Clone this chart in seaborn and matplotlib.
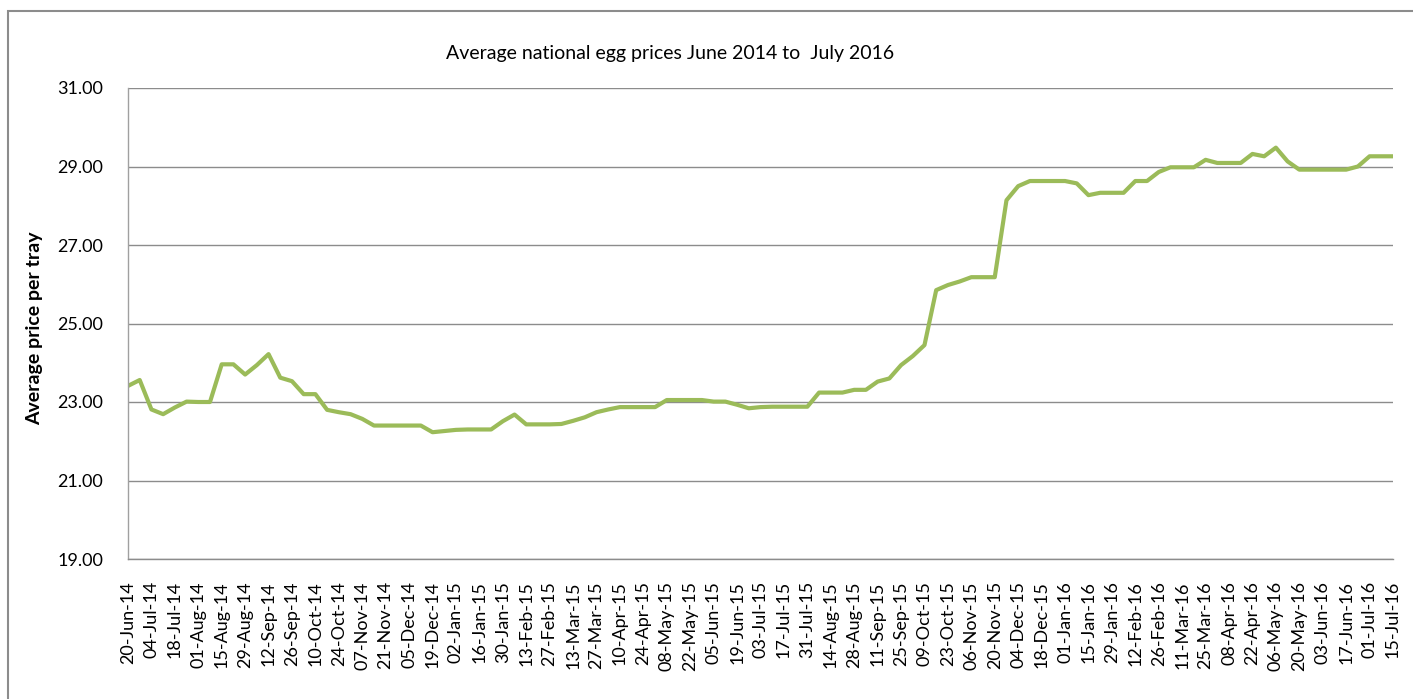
import matplotlib
matplotlib.use("Agg")
import matplotlib.pyplot as plt
import seaborn as sns
import pandas as pd
from matplotlib.patches import Rectangle

tick_labels = [
    "20-Jun-14", "04-Jul-14", "18-Jul-14", "01-Aug-14", "15-Aug-14", "29-Aug-14",
    "12-Sep-14", "26-Sep-14", "10-Oct-14", "24-Oct-14", "07-Nov-14", "21-Nov-14",
    "05-Dec-14", "19-Dec-14", "02-Jan-15", "16-Jan-15", "30-Jan-15", "13-Feb-15",
    "27-Feb-15", "13-Mar-15", "27-Mar-15", "10-Apr-15", "24-Apr-15", "08-May-15",
    "22-May-15", "05-Jun-15", "19-Jun-15", "03-Jul-15", "17-Jul-15", "31-Jul-15",
    "14-Aug-15", "28-Aug-15", "11-Sep-15", "25-Sep-15", "09-Oct-15", "23-Oct-15",
    "06-Nov-15", "20-Nov-15", "04-Dec-15", "18-Dec-15", "01-Jan-16", "15-Jan-16",
    "29-Jan-16", "12-Feb-16", "26-Feb-16", "11-Mar-16", "25-Mar-16", "08-Apr-16",
    "22-Apr-16", "06-May-16", "20-May-16", "03-Jun-16", "17-Jun-16", "01-Jul-16",
    "15-Jul-16",
]

prices = [
    23.41, 23.56, 22.81, 22.69, 22.86, 23.01, 23.00, 23.00, 23.96, 23.96,
    23.70, 23.94, 24.22, 23.62, 23.53, 23.20, 23.20, 22.80, 22.74, 22.69,
    22.57, 22.40, 22.40, 22.40, 22.40, 22.40, 22.23, 22.26, 22.29, 22.30,
    22.30, 22.30, 22.51, 22.68, 22.43, 22.43, 22.43, 22.44, 22.52, 22.61,
    22.74, 22.81, 22.87, 22.87, 22.87, 22.87, 23.05, 23.05, 23.05, 23.05,
    23.01, 23.01, 22.93, 22.84, 22.87, 22.88, 22.88, 22.88, 22.88, 23.24,
    23.24, 23.24, 23.31, 23.31, 23.52, 23.60, 23.94, 24.17, 24.45, 25.85,
    25.98, 26.07, 26.18, 26.18, 26.18, 28.14, 28.50, 28.63, 28.63, 28.63,
    28.63, 28.57, 28.27, 28.33, 28.33, 28.33, 28.63, 28.63, 28.86, 28.98,
    28.98, 28.98, 29.17, 29.09, 29.09, 29.09, 29.32, 29.26, 29.48, 29.13,
    28.92, 28.92, 28.92, 28.92, 28.92, 29.00, 29.26, 29.26, 29.26,
]

y_ticks = [19, 21, 23, 25, 27, 29, 31]

sns.set_theme(style="white")
plt.rcParams["font.family"] = ["Lato", "DejaVu Sans"]
plt.rcParams["text.color"] = "black"
plt.rcParams["xtick.color"] = "black"
plt.rcParams["ytick.color"] = "black"

W, H = 1413, 699
fig = plt.figure(figsize=(W / 100, H / 100), dpi=100)
ax = fig.add_axes([128 / W, 1 - 559 / H, (1393 - 128) / W, (559 - 88) / H])

df = pd.DataFrame({"week": range(len(prices)), "price": prices})
sns.lineplot(data=df, x="week", y="price", ax=ax, color="#9BBB59", linewidth=3.0)

ax.set_xlim(0, len(prices) - 1)
ax.set_ylim(19, 31)
ax.set_yticks(y_ticks)
ax.set_yticklabels([f"{v:.2f}" for v in y_ticks], fontsize=13)
ax.set_xticks(range(0, len(prices), 2))
ax.set_xticklabels(tick_labels, rotation=90, fontsize=13)
ax.tick_params(axis="x", length=0, pad=16)
ax.tick_params(axis="y", length=0, pad=18)

ax.grid(axis="y", color="#8C8C8C", linewidth=1.0)
ax.grid(axis="x", visible=False)
for s in ["top", "right"]:
    ax.spines[s].set_visible(False)
ax.spines["left"].set_color("#A0A0A0")
ax.spines["bottom"].set_color("#8C8C8C")
ax.spines["left"].set_linewidth(1.0)
ax.spines["bottom"].set_linewidth(1.0)

ax.set_xlabel("")
ax.set_ylabel("")
fig.text(35 / W, 1 - 328 / H, "Average price per tray", rotation=90,
         ha="center", va="center", fontsize=14, fontweight="bold")
fig.text(670 / W, 1 - 53 / H, "Average national egg prices June 2014 to  July 2016",
         ha="center", va="center", fontsize=14)

fig.patches.append(Rectangle((8 / W, -0.1), 2.0, (H - 11) / H + 0.1,
                             transform=fig.transFigure, fill=False,
                             edgecolor="#8C8C8C", linewidth=1.5))

fig.savefig("out.png", dpi=100)
